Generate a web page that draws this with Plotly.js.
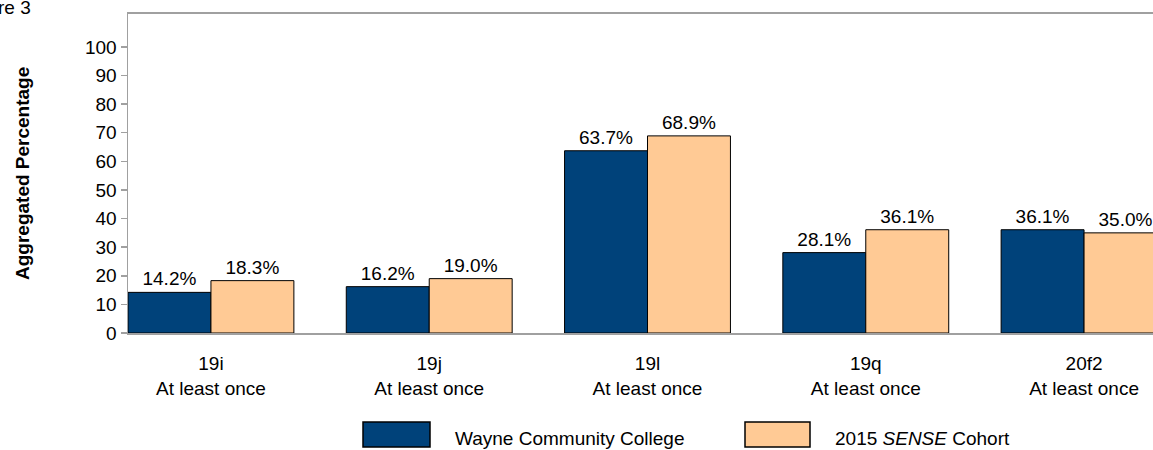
<!DOCTYPE html>
<html>
<head>
<meta charset="utf-8">
<script src="https://cdn.plot.ly/plotly-3.0.1.min.js"></script>
<style>
html,body{margin:0;padding:0;overflow:hidden;background:#fff;}
#chart{width:1180px;height:450px;}
</style>
</head>
<body>
<div id="chart"></div>
<script>
const categories = ["19i", "19j", "19l", "19q", "20f2"];
const subLabel = "At least once";
const seriesNames = ["Wayne Community College", "2015 <i>SENSE</i> Cohort"];
const wayneValues = [14.2, 16.2, 63.7, 28.1, 36.1];
const cohortValues = [18.3, 19.0, 68.9, 36.1, 35.0];
const yTicks = [0, 10, 20, 30, 40, 50, 60, 70, 80, 90, 100];

const FONT = "Arial, 'Liberation Sans', sans-serif";
const navy = "#00427A";
const peach = "#FFCA95";
const axisGrey = "#A0A0A0";

const W = 1180, H = 450, ML = 128, MR = 13, MT = 14, MB = 117;
const PW = W - ML - MR, PH = H - MT - MB;
const px = v => (v - ML) / PW;
const py = v => (H - MB - v) / PH;

const xIdx = categories.map((c, i) => i);
const tickText = categories.map(c => c + "<br>" + subLabel);

function barTrace(name, vals, color) {
  return {
    type: "bar",
    x: xIdx,
    y: vals,
    name: name,
    marker: {color: color, line: {color: "#000", width: 1}},
    text: vals.map(v => v.toFixed(1) + "%"),
    textposition: "outside",
    cliponaxis: false,
    textfont: {family: FONT, size: 19, color: "#000"},
    hoverinfo: "none"
  };
}

const data = [
  barTrace(seriesNames[0], wayneValues, navy),
  barTrace(seriesNames[1], cohortValues, peach)
];

const legendBoxes = [
  {x0: 363, x1: 430, color: navy, tx: 453, name: seriesNames[0]},
  {x0: 745, x1: 810, color: peach, tx: 833, name: seriesNames[1]}
];

const shapes = legendBoxes.map(b => ({
  type: "rect", xref: "paper", yref: "paper",
  x0: px(b.x0), x1: px(b.x1), y0: py(447), y1: py(422),
  fillcolor: b.color, line: {color: "#000", width: 1.5}
}));

const annotations = legendBoxes.map(b => ({
  xref: "paper", yref: "paper", x: px(b.tx), y: py(438),
  xanchor: "left", yanchor: "middle", showarrow: false,
  text: b.name, font: {family: FONT, size: 19, color: "#000"}
}));
annotations.push({
  xref: "paper", yref: "paper", x: px(33), y: py(8),
  xanchor: "right", yanchor: "middle", showarrow: false,
  text: "Figure 3", font: {family: FONT, size: 19, color: "#000"}
});
annotations.push({
  xref: "paper", yref: "paper", x: px(23), y: py(174),
  xanchor: "center", yanchor: "middle", showarrow: false, textangle: -90,
  text: "<b>Aggregated Percentage</b>", font: {family: FONT, size: 19, color: "#000"}
});

const layout = {
  width: W, height: H,
  margin: {l: ML, r: MR, t: MT, b: MB},
  paper_bgcolor: "#fff", plot_bgcolor: "#fff",
  barmode: "group", bargap: 0.24, bargroupgap: 0,
  showlegend: false,
  font: {family: FONT, size: 19, color: "#000"},
  xaxis: {
    range: [-0.38, 4.38],
    tickvals: xIdx, ticktext: tickText,
    ticks: "", ticklabelstandoff: 12, showgrid: false, zeroline: false,
    showline: true, linecolor: axisGrey, linewidth: 2, mirror: true,
    tickfont: {family: FONT, size: 19, color: "#000"},
    fixedrange: true
  },
  yaxis: {
    range: [0, 111.5],
    tickvals: yTicks,
    ticks: "outside", ticklen: 6, tickcolor: axisGrey, tickwidth: 1.5,
    showgrid: false, zeroline: false,
    showline: true, linecolor: axisGrey, linewidth: 1.5, mirror: true,
    tickfont: {family: FONT, size: 19, color: "#000"},
    fixedrange: true
  },
  shapes: shapes,
  annotations: annotations
};

Plotly.newPlot("chart", data, layout, {displayModeBar: false, staticPlot: true});
</script>
</body>
</html>
